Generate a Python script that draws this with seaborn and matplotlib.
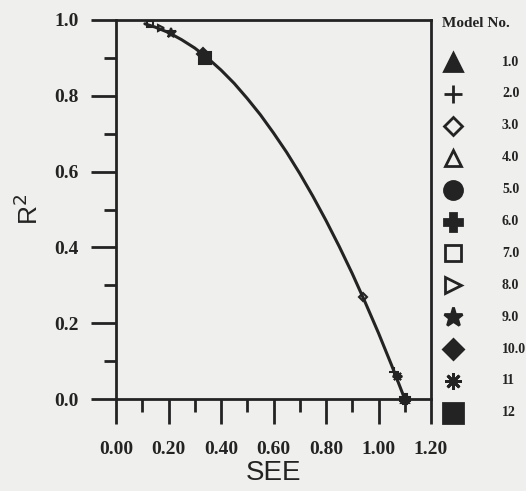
import matplotlib
matplotlib.use("Agg")
import matplotlib.pyplot as plt
import seaborn as sns
import pandas as pd

# Fitted R^2 vs SEE trade-off curve
curve_see = [0.11, 0.15, 0.20, 0.25, 0.30, 0.35, 0.40, 0.45, 0.50, 0.55, 0.60,
             0.65, 0.70, 0.75, 0.80, 0.85, 0.90, 0.95, 1.00, 1.05, 1.10]
curve_r2 = [0.99, 0.981, 0.967, 0.948, 0.926, 0.899, 0.868, 0.833, 0.793, 0.750, 0.702,
            0.651, 0.595, 0.535, 0.471, 0.403, 0.331, 0.254, 0.174, 0.089, 0.0]

# Individual models
model_labels = ["1.0", "2.0", "3.0", "4.0", "5.0", "6.0", "7.0", "8.0", "9.0", "10.0", "11", "12"]
model_see = [1.10, 1.06, 0.94, 0.34, 0.34, 1.10, 0.13, 0.17, 0.21, 0.33, 1.07, 0.34]
model_r2 = [0.00, 0.07, 0.27, 0.905, 0.905, 0.00, 0.99, 0.98, 0.965, 0.91, 0.06, 0.90]

x_ticks = [0.0, 0.2, 0.4, 0.6, 0.8, 1.0, 1.2]
x_ticklabels = ["0.00", "0.20", "0.40", "0.60", "0.80", "1.00", "1.20"]
y_ticks = [0.0, 0.2, 0.4, 0.6, 0.8, 1.0]
y_ticklabels = ["0.0", "0.2", "0.4", "0.6", "0.8", "1.0"]

INK = "#232323"
PAPER = "#efefed"

# marker, filled?, legend size, curve size
marker_styles = [
    ("^", True, 13, 6),
    ("+", False, 13, 7),
    ("D", False, 9, 4),
    ("^", False, 12, 6),
    ("o", True, 13, 7),
    ("P", True, 13, 7),
    ("s", False, 12, 5),
    (">", False, 12, 5),
    ("*", True, 14, 7),
    ("D", True, 10, 6),
    ((8, 2, 0), False, 12, 7),
    ("s", True, 14, 9),
]

sns.set_theme(style="white")
plt.rcParams["font.family"] = ["Liberation Serif", "DejaVu Serif"]

fig = plt.figure(figsize=(5.26, 4.91), dpi=100, facecolor=PAPER)
ax = fig.add_axes([116 / 526, 1 - 399 / 491, (431 - 116) / 526, (399 - 20) / 491])
ax.set_facecolor(PAPER)

curve = pd.DataFrame({"SEE": curve_see, "R2": curve_r2})
sns.lineplot(data=curve, x="SEE", y="R2", ax=ax, color=INK, linewidth=2.2,
             sort=True, estimator=None)

for (mk, filled, _, msz), sx, sy in zip(marker_styles, model_see, model_r2):
    ax.plot([sx], [sy], linestyle="none", marker=mk, markersize=msz,
            markerfacecolor=INK if filled else "none", markeredgecolor=INK,
            markeredgewidth=1.5, clip_on=False, zorder=5)

ax.set_xlim(0, 1.2)
ax.set_ylim(0, 1.0)
ax.set_xticks(x_ticks)
ax.set_xticklabels(x_ticklabels)
ax.set_yticks(y_ticks)
ax.set_yticklabels(y_ticklabels)
ax.set_xticks([0.1, 0.3, 0.5, 0.7, 0.9, 1.1], minor=True)
ax.set_yticks([0.1, 0.3, 0.5, 0.7, 0.9], minor=True)

for side in ["left", "right", "top", "bottom"]:
    ax.spines[side].set_visible(True)
    ax.spines[side].set_color(INK)
    ax.spines[side].set_linewidth(2.0)

ax.tick_params(axis="both", which="major", direction="out", length=18, width=2.0,
               color=INK, labelcolor=INK, labelsize=14)
ax.tick_params(axis="both", which="minor", direction="out", length=9, width=2.0,
               color=INK)
ax.tick_params(axis="x", which="both", bottom=True, top=False, pad=12)
ax.tick_params(axis="y", which="both", left=True, right=False, pad=9)
for lbl in ax.get_xticklabels() + ax.get_yticklabels():
    lbl.set_fontweight("bold")

ax.set_xlabel("SEE", fontsize=20, color=INK, family=["Liberation Sans", "DejaVu Sans"],
              labelpad=2)
ax.set_ylabel("R$^2$", fontsize=19, color=INK, family=["Liberation Sans", "DejaVu Sans"],
              labelpad=8)
ax.grid(False)

# Marker key on the right
leg = fig.add_axes([430 / 526, 0, 96 / 526, 1])
leg.set_xlim(0, 96)
leg.set_ylim(491, 0)
leg.axis("off")
leg.patch.set_alpha(0)
leg.text(12, 23, "Model No.", fontsize=11, fontweight="bold", color=INK,
         ha="left", va="center")
for i, ((mk, filled, lsz, _), lab) in enumerate(zip(marker_styles, model_labels)):
    yy = 62 + 31.9 * i
    leg.plot([23], [yy], linestyle="none", marker=mk, markersize=lsz,
             markerfacecolor=INK if filled else "none", markeredgecolor=INK,
             markeredgewidth=2.0, clip_on=False)
    leg.text(72, yy, lab, fontsize=10, fontweight="bold", color=INK,
             ha="left", va="center")

fig.savefig("out.png", dpi=100, facecolor=PAPER)
